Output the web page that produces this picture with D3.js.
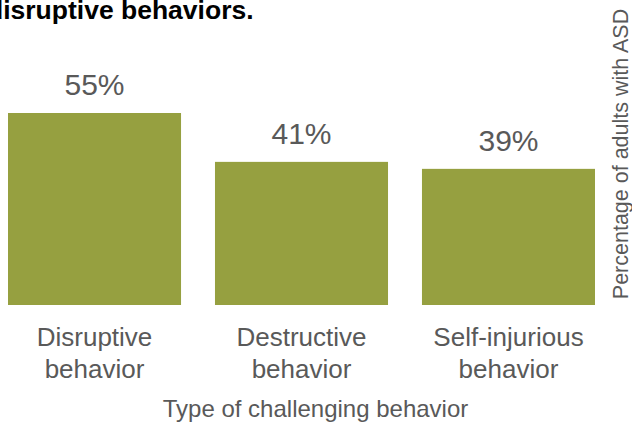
<!DOCTYPE html>
<html>
<head>
<meta charset="utf-8">
<script src="https://cdn.jsdelivr.net/npm/d3@7/dist/d3.min.js"></script>
<style>
  html, body { margin: 0; padding: 0; background: #fff; }
  svg { display: block; }
  text { font-family: "Liberation Sans", Arial, sans-serif; }
</style>
</head>
<body>
<svg id="chart" width="632" height="423"></svg>
<script>
const categories = [["Disruptive", "behavior"], ["Destructive", "behavior"], ["Self-injurious", "behavior"]];
const values = [55, 41, 39];
const valueLabels = ["55%", "41%", "39%"];
const titleText = "disruptive behaviors.";
const xTitle = "Type of challenging behavior";
const yTitle = "Percentage of adults with ASD";

const svg = d3.select("#chart");
const keys = categories.map(c => c.join(" "));

const x = d3.scaleBand().domain(keys).range([8, 595]).paddingInner(0.164).paddingOuter(0);
const y = d3.scaleLinear().domain([0, 55]).range([305, 113]);

// title (cut off at top/left as in reference)
svg.append("text")
  .attr("x", -13).attr("y", 19)
  .attr("font-size", 26.5).attr("font-weight", "bold").attr("fill", "#000")
  .text(titleText);

// bars
svg.selectAll("rect.bar").data(values).enter().append("rect")
  .attr("class", "bar")
  .attr("x", (d, i) => x(keys[i]))
  .attr("y", d => y(d))
  .attr("width", x.bandwidth())
  .attr("height", d => y(0) - y(d))
  .attr("fill", "#96a040");

// value labels
svg.selectAll("text.val").data(values).enter().append("text")
  .attr("class", "val")
  .attr("x", (d, i) => x(keys[i]) + x.bandwidth() / 2)
  .attr("y", d => y(d) - 18)
  .attr("text-anchor", "middle")
  .attr("font-size", 30).attr("fill", "#595959")
  .text((d, i) => valueLabels[i]);

// category labels via axis
const xAxis = d3.axisBottom(x).tickSize(0).tickFormat("");
const gx = svg.append("g").attr("transform", `translate(0,${y(0)})`).call(xAxis);
gx.select(".domain").remove();
gx.selectAll(".tick").each(function(d, i) {
  const t = d3.select(this).append("text")
    .attr("text-anchor", "middle")
    .attr("font-size", 26).attr("fill", "#595959");
  categories[i].forEach((line, j) => {
    t.append("tspan").attr("x", 0).attr("y", 41 + j * 32).text(line);
  });
});

// x title
svg.append("text")
  .attr("x", (x.range()[0] + x.range()[1]) / 2 + 14).attr("y", 417)
  .attr("text-anchor", "middle")
  .attr("font-size", 24).attr("fill", "#595959")
  .text(xTitle);

// y title (right side, rotated)
svg.append("text")
  .attr("transform", "translate(628,154) rotate(-90)")
  .attr("text-anchor", "middle")
  .attr("font-size", 21.5).attr("fill", "#595959")
  .text(yTitle);
</script>
</body>
</html>
